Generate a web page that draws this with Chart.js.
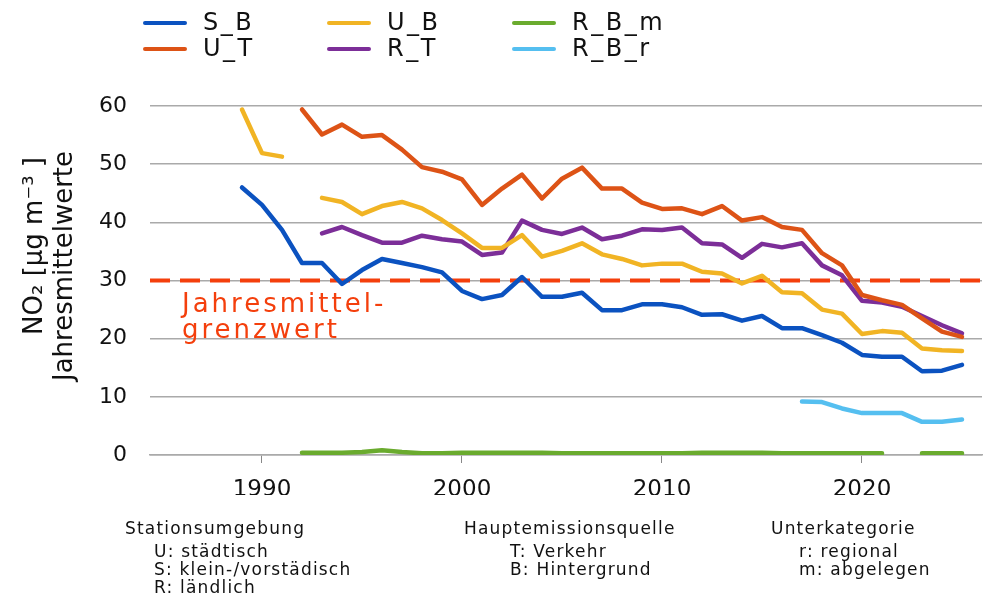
<!DOCTYPE html>
<html>
<head>
<meta charset="utf-8">
<script src="https://cdn.jsdelivr.net/npm/chart.js@4"></script>
<style>
  html, body { margin: 0; padding: 0; background: #fff; }
  #wrap { position: relative; width: 984px; height: 594px; overflow: hidden; }
  #chart { position: absolute; left: 0; top: 0; }
  .legend { position: absolute; left: 0; top: 0; font-family: "DejaVu Sans", sans-serif; font-size: 24px; letter-spacing: 2.5px; color: #111; }
  .leg { position: absolute; height: 26px; line-height: 26px; white-space: nowrap; }
  .leg span { display: inline-block; width: 44px; height: 4px; border-radius: 2px; vertical-align: middle; margin-right: 16px; }
  .notes { position: absolute; font-family: "DejaVu Sans", sans-serif; font-size: 17px; letter-spacing: 1.2px; color: #111; line-height: 18px; }
  .notes .sub { margin-top: 5px; }
</style>
</head>
<body>
<div id="wrap">
  <canvas id="chart" width="984" height="594"></canvas>
  <div class="legend" id="legend"></div>
  <div class="notes" style="left:125px; top:519px;">Stationsumgebung<div class="sub" style="padding-left:29px">U: städtisch<br>S: klein-/vorstädisch<br>R: ländlich</div></div>
  <div class="notes" style="left:464px; top:519px;">Hauptemissionsquelle<div class="sub" style="padding-left:46px">T: Verkehr<br>B: Hintergrund</div></div>
  <div class="notes" style="left:771px; top:519px;">Unterkategorie<div class="sub" style="padding-left:28px">r: regional<br>m: abgelegen</div></div>
</div>
<script>
var years = [1989, 1990, 1991, 1992, 1993, 1994, 1995, 1996, 1997, 1998, 1999,
  2000, 2001, 2002, 2003, 2004, 2005, 2006, 2007, 2008, 2009,
  2010, 2011, 2012, 2013, 2014, 2015, 2016, 2017, 2018, 2019,
  2020, 2021, 2022, 2023, 2024, 2025];

var S_B = [46.0, 43.0, 38.7, 33.0, 33.0, 29.4, 31.8, 33.7, 33.0, 32.3, 31.4,
  28.2, 26.8, 27.5, 30.6, 27.2, 27.2, 27.9, 24.9, 24.9, 25.9,
  25.9, 25.4, 24.1, 24.2, 23.1, 23.9, 21.8, 21.8, 20.6, 19.3,
  17.2, 16.9, 16.9, 14.4, 14.5, 15.5];
var U_T = [null, null, null, 59.4, 55.1, 56.8, 54.7, 55.0, 52.5, 49.5, 48.7,
  47.4, 43.0, 45.8, 48.2, 44.1, 47.5, 49.4, 45.8, 45.8, 43.4,
  42.3, 42.4, 41.4, 42.8, 40.3, 40.9, 39.2, 38.7, 34.7, 32.6,
  27.5, 26.6, 25.8, 23.5, 21.2, 20.3];
var U_B = [59.4, 51.9, 51.3, null, 44.2, 43.5, 41.4, 42.8, 43.5, 42.4, 40.4,
  38.1, 35.6, 35.6, 37.8, 34.1, 35.1, 36.4, 34.5, 33.7, 32.6,
  32.9, 32.9, 31.5, 31.2, 29.5, 30.8, 28.0, 27.8, 25.0, 24.3,
  20.8, 21.3, 21.0, 18.3, 18.0, 17.9];
var R_T = [null, null, null, null, 38.1, 39.2, 37.8, 36.5, 36.5, 37.7, 37.1,
  36.7, 34.4, 34.8, 40.3, 38.7, 38.0, 39.1, 37.1, 37.7, 38.8,
  38.7, 39.1, 36.4, 36.2, 33.9, 36.3, 35.7, 36.4, 32.6, 30.9,
  26.5, 26.2, 25.5, 23.9, 22.3, 20.9];
var R_B_m = [null, null, null, 0.4, 0.4, 0.4, 0.5, 0.8, 0.5, 0.3, 0.3,
  0.4, 0.4, 0.4, 0.4, 0.4, 0.3, 0.3, 0.3, 0.3, 0.3,
  0.3, 0.3, 0.4, 0.4, 0.4, 0.4, 0.3, 0.3, 0.3, 0.3,
  0.3, 0.3, null, 0.3, 0.3, 0.3];
var R_B_r = [null, null, null, null, null, null, null, null, null, null, null,
  null, null, null, null, null, null, null, null, null, null,
  null, null, null, null, null, null, null, 9.2, 9.1, 8.0,
  7.2, 7.2, 7.2, 5.7, 5.7, 6.1];

var yTicks = [0, 10, 20, 30, 40, 50, 60];
var xTicks = [1990, 2000, 2010, 2020];
var limitValue = 30;
var limitLabel = ["Jahresmittel-", "grenzwert"];
var yTitle = ["NO\u2082 [\u00b5g m\u207b\u00b3 ]", "Jahresmittelwerte"];

var seriesList = [
  { name: "S_B", data: S_B, color: "#0b52c0" },
  { name: "U_T", data: U_T, color: "#dd5316" },
  { name: "U_B", data: U_B, color: "#f1b424" },
  { name: "R_T", data: R_T, color: "#7c2e98" },
  { name: "R_B_m", data: R_B_m, color: "#6aab2e" },
  { name: "R_B_r", data: R_B_r, color: "#55bff0" }
];

// legend, 3 columns x 2 rows
var legPos = [[143, 9], [143, 35], [327, 9], [327, 35], [512, 9], [512, 35]];
var legend = document.getElementById('legend');
seriesList.forEach(function (s, i) {
  var d = document.createElement('div');
  d.className = 'leg';
  d.style.left = legPos[i][0] + 'px';
  d.style.top = legPos[i][1] + 'px';
  d.innerHTML = '<span style="background:' + s.color + '"></span>' + s.name;
  legend.appendChild(d);
});

var limitPlugin = {
  id: 'limitLine',
  beforeDatasetsDraw: function (chart) {
    var ctx = chart.ctx, area = chart.chartArea;
    var y = chart.scales.y.getPixelForValue(limitValue);
    ctx.save();
    ctx.strokeStyle = '#f43f0c';
    ctx.lineWidth = 4;
    ctx.setLineDash([20, 10]);
    ctx.beginPath();
    ctx.moveTo(area.left, y);
    ctx.lineTo(area.right, y);
    ctx.stroke();
    ctx.setLineDash([]);
    ctx.fillStyle = '#f43f0c';
    ctx.font = '26px "DejaVu Sans", sans-serif';
    ctx.letterSpacing = '3px';
    ctx.textBaseline = 'alphabetic';
    ctx.fillText(limitLabel[0], 182, y + 31);
    ctx.fillText(limitLabel[1], 182, y + 57);
    ctx.restore();
  },
  afterDraw: function (chart) {
    // two-line y axis title
    var ctx = chart.ctx;
    ctx.save();
    ctx.fillStyle = '#111';
    ctx.font = '26px "DejaVu Sans", sans-serif';
    ctx.textAlign = 'center';
    ctx.textBaseline = 'alphabetic';
    ctx.rotate(-Math.PI / 2);
    ctx.fillText(yTitle[0], -246, 42);
    ctx.fillText(yTitle[1], -266, 72);
    ctx.restore();
  }
};

new Chart(document.getElementById('chart'), {
  type: 'line',
  data: {
    datasets: seriesList.map(function (s) {
      return {
        label: s.name,
        data: years.map(function (yr, i) { return { x: yr, y: s.data[i] }; }),
        borderColor: s.color,
        backgroundColor: s.color,
        borderWidth: 4.5,
        pointRadius: 0,
        tension: 0,
        spanGaps: false,
        borderJoinStyle: 'round',
        borderCapStyle: 'round'
      };
    })
  },
  options: {
    responsive: false,
    animation: false,
    layout: { padding: { left: 0, right: 2, top: 106, bottom: 99 } },
    plugins: { legend: { display: false }, tooltip: { enabled: false } },
    scales: {
      x: {
        type: 'linear',
        min: 1984.4,
        max: 2026,
        afterBuildTicks: function (scale) {
          scale.ticks = xTicks.map(function (v) { return { value: v }; });
        },
        afterFit: function (scale) { scale.height = 40; },
        grid: { drawOnChartArea: false, drawTicks: true, tickLength: 8, color: '#888', lineWidth: 1 },
        border: { display: true, color: '#aaa', width: 1.5 },
        ticks: {
          padding: 13,
          color: '#111',
          font: { family: '"DejaVu Sans", sans-serif', size: 23 },
          callback: function (v) { return String(v); }
        }
      },
      y: {
        min: 0,
        max: 60,
        afterBuildTicks: function (scale) {
          scale.ticks = yTicks.map(function (v) { return { value: v }; });
        },
        afterFit: function (scale) { scale.width = 150; },
        grid: { color: '#aaa', lineWidth: 1.5, drawTicks: false },
        border: { display: false },
        ticks: {
          padding: 23,
          color: '#111',
          font: { family: '"DejaVu Sans", sans-serif', size: 22 }
        }
      }
    }
  },
  plugins: [limitPlugin]
});
</script>
</body>
</html>
